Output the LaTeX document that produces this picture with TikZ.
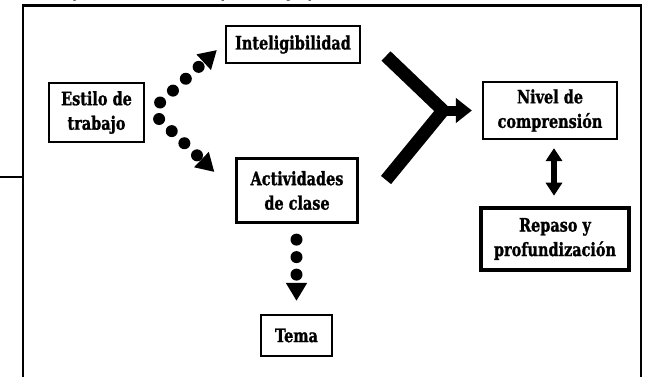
\documentclass[tikz,border=0pt]{standalone}
\usepackage{fontspec}
\setmainfont{Liberation Sans}
\newfontfamily\boxfont{DejaVu Serif}[FakeStretch=0.78, BoldFeatures={FakeBold=1.2}]
\usetikzlibrary{arrows.meta}
\begin{document}
\begin{tikzpicture}[x=1pt,y=-1pt,
  box/.style={draw, line width=2.2pt, inner sep=0pt, align=center,
    font=\boxfont\bfseries\fontsize{18.5}{24.5}\selectfont},
  dotarrow/.style={line width=12pt, line cap=round, dash pattern=on 0pt off 17.5pt,
    -{Triangle[length=18pt,width=20pt]}},
  bigarm/.style={line width=13pt, line join=miter},
  bigstem/.style={line width=10pt, -{Triangle[length=16pt,width=24pt]}},
  dblarrow/.style={line width=5.5pt, {Triangle[length=13pt,width=16pt]}-{Triangle[length=13pt,width=16pt]}},
  frame/.style={line width=2.6pt}]
\useasboundingbox (0,0) rectangle (647,376);
% cut-off title
\begin{scope}
\clip (0,0) rectangle (647,6);
\node[anchor=base west, inner sep=0pt, font=\fontsize{27}{30}\selectfont] (title) at (31,-5) {Esquema 3. Repaso y profundización};
\end{scope}
% frame
\draw[frame] (23,380) -- (23,5.5) -- (641,5.5) -- (641,380);
\coordinate (hl) at (0,177);
\coordinate (hr) at (23,177);
\draw[line width=1.6pt] (hl) -- (hr);
% nodes
\node[box, minimum width=95pt, minimum height=59pt] (estilo) at (96.5,112.5) {Estilo de\\trabajo};
\node[box, minimum width=134pt, minimum height=37pt] (intel) at (293,44.5) {Inteligibilidad};
\node[box, minimum width=121pt, minimum height=64pt] (activ) at (297,190.5) {Actividades\\de clase};
\node[box, minimum width=71pt, minimum height=41pt] (tema) at (296.5,335.5) {Tema};
\node[box, minimum width=134pt, minimum height=57pt] (nivel) at (550,110.5) {Nivel de\\comprensión};
\node[box, line width=4.6pt, minimum width=148pt, minimum height=62pt] (repaso) at (555,239) {Repaso y\\profundización};
% dotted arrows
\draw[dotarrow] ([shift={(15,-10)}]estilo.east) -- ([shift={(-8,5.5)}]intel.west);
\draw[dotarrow] ([shift={(14,6.5)}]estilo.east) -- ([shift={(-21,-18.5)}]activ.west);
\draw[dotarrow, shorten <=16pt, shorten >=13pt] (activ.south -| tema.north) -- (tema.north);
% big Y arrow
\coordinate (ya) at (386,56);
\coordinate (yb) at (386,180);
\coordinate (yj) at (443,110.5);
\draw[bigarm] (ya) -- (yj) -- (yb);
\draw[bigstem, shorten >=10pt] (yj) -- (nivel.west);
% double arrow
\coordinate (dx) at (554,0);
\draw[dblarrow, shorten <=8pt, shorten >=10pt] (nivel.south -| dx) -- (repaso.north -| dx);
\end{tikzpicture}
\end{document}
